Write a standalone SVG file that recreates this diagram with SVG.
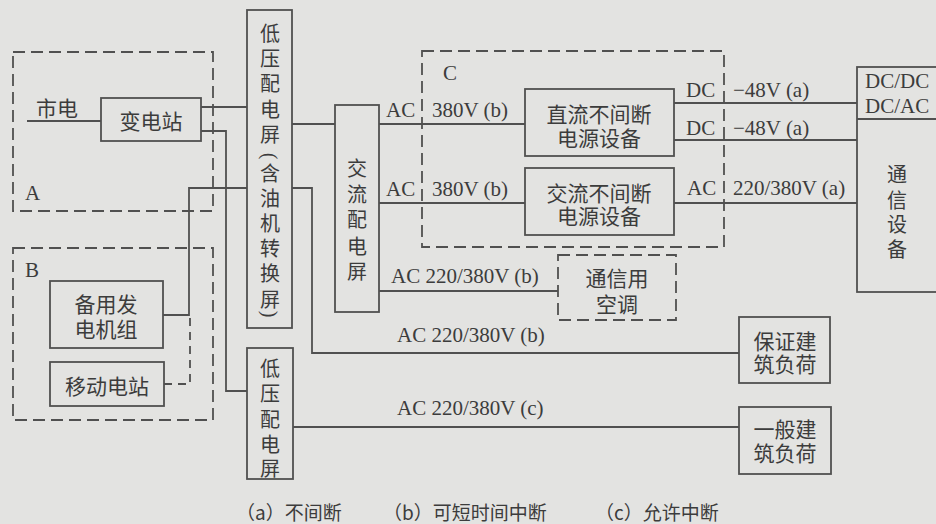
<svg xmlns="http://www.w3.org/2000/svg" width="936" height="524" viewBox="0 0 936 524">
<style>
.bg{fill:#e3e3e1}
.box{fill:none;stroke:#505050;stroke-width:1.8}
.dbox{fill:none;stroke:#505050;stroke-width:1.8;stroke-dasharray:12 6}
.ln{fill:none;stroke:#505050;stroke-width:1.8}
.dln{fill:none;stroke:#505050;stroke-width:1.8;stroke-dasharray:8 6}
.cj{font-family:"Noto Sans CJK SC","Noto Sans CJK TC",sans-serif;font-size:21px;fill:#3c3c3c;text-anchor:middle;dominant-baseline:central}
.cv{font-family:"Noto Sans CJK SC","Noto Sans CJK TC",sans-serif;font-size:20px;fill:#3c3c3c;text-anchor:middle;dominant-baseline:central}
.pr{font-family:"Liberation Serif","Times New Roman",serif;font-size:20px;fill:#3c3c3c;text-anchor:middle;dominant-baseline:central}
.cjl{font-family:"Noto Sans CJK SC","Noto Sans CJK TC",sans-serif;font-size:19px;fill:#3c3c3c;dominant-baseline:central}
.lt{font-family:"Liberation Serif","Times New Roman",serif;font-size:21px;fill:#3c3c3c}
</style>
<rect class="bg" x="0" y="0" width="936" height="524"/>

<g id="connectors">
<path class="ln" d="M27,121H101"/>
<path class="ln" d="M201,107H247"/>
<path class="ln" d="M201,131H226V391H247"/>
<path class="ln" d="M163,315H189V188H247"/>
<path class="dln" d="M164,384H190V315"/>
<path class="ln" d="M292,124H335"/>
<path class="ln" d="M292,188H312V353H739"/>
<path class="ln" d="M379,124H525"/>
<path class="ln" d="M379,203H525"/>
<path class="ln" d="M379,291H558"/>
<path class="ln" d="M674,103H857"/>
<path class="ln" d="M674,140H857"/>
<path class="ln" d="M674,203H857"/>
<path class="ln" d="M293,427H739"/>
<text class="lt" x="386" y="117">AC</text>
<text class="lt" x="432" y="117">380V (b)</text>
<text class="lt" x="386" y="196">AC</text>
<text class="lt" x="432" y="196">380V (b)</text>
<text class="lt" x="686" y="97">DC</text>
<text class="lt" x="733" y="97">−48V (a)</text>
<text class="lt" x="686" y="135">DC</text>
<text class="lt" x="733" y="135">−48V (a)</text>
<text class="lt" x="687" y="195">AC</text>
<text class="lt" x="733" y="195">220/380V (a)</text>
<text class="lt" x="391" y="283">AC 220/380V (b)</text>
<text class="lt" x="397" y="342">AC 220/380V (b)</text>
<text class="lt" x="397" y="415">AC 220/380V (c)</text>
</g>

<g id="groupA">
<rect class="dbox" x="13" y="52" width="200" height="159"/>
<text class="lt" x="25" y="200">A</text>
<text class="cj" x="57" y="107">市电</text>
</g>
<g id="groupB">
<rect class="dbox" x="13" y="248" width="200" height="172"/>
<text class="lt" x="25" y="277">B</text>
</g>
<g id="groupC">
<rect class="dbox" x="422" y="51" width="302" height="196"/>
<text class="lt" x="443" y="80">C</text>
</g>

<g id="substation">
<rect class="box" x="101" y="98" width="100" height="43"/>
<text class="cj" x="151" y="120">变电站</text>
</g>
<g id="generator">
<rect class="box" x="50" y="281" width="113" height="67"/>
<text class="cj" x="106" y="303">备用发</text>
<text class="cj" x="106" y="328">电机组</text>
</g>
<g id="mobile">
<rect class="box" x="50" y="362" width="114" height="44"/>
<text class="cj" x="107" y="385">移动电站</text>
</g>
<g id="lv1">
<rect class="box" x="247" y="10" width="45" height="318"/>
<text class="cv" x="270" y="32">低</text>
<text class="cv" x="270" y="57">压</text>
<text class="cv" x="270" y="82">配</text>
<text class="cv" x="270" y="108">电</text>
<text class="cv" x="270" y="133">屏</text>
<text class="pr" x="270" y="156" transform="rotate(90 270 156)">(</text>
<text class="cv" x="270" y="172">含</text>
<text class="cv" x="270" y="197">油</text>
<text class="cv" x="270" y="222">机</text>
<text class="cv" x="270" y="247">转</text>
<text class="cv" x="270" y="272">换</text>
<text class="cv" x="270" y="298">屏</text>
<text class="pr" x="270" y="314" transform="rotate(90 270 314)">)</text>
</g>
<g id="lv2">
<rect class="box" x="247" y="348" width="46" height="131"/>
<text class="cv" x="270" y="367">低</text>
<text class="cv" x="270" y="392">压</text>
<text class="cv" x="270" y="418">配</text>
<text class="cv" x="270" y="443">电</text>
<text class="cv" x="270" y="467">屏</text>
</g>
<g id="acpanel">
<rect class="box" x="335" y="105" width="44" height="207"/>
<text class="cv" x="357" y="167">交</text>
<text class="cv" x="357" y="193">流</text>
<text class="cv" x="357" y="218">配</text>
<text class="cv" x="357" y="245">电</text>
<text class="cv" x="357" y="270">屏</text>
</g>
<g id="dcups">
<rect class="box" x="525" y="89" width="149" height="67"/>
<text class="cj" x="599" y="113">直流不间断</text>
<text class="cj" x="599" y="137">电源设备</text>
</g>
<g id="acups">
<rect class="box" x="525" y="168" width="149" height="67"/>
<text class="cj" x="599" y="192">交流不间断</text>
<text class="cj" x="599" y="215">电源设备</text>
</g>
<g id="aircon">
<rect class="dbox" x="558" y="255" width="118" height="65"/>
<text class="cj" x="617" y="277">通信用</text>
<text class="cj" x="617" y="303">空调</text>
</g>
<g id="telecom">
<rect class="box" x="857" y="67" width="90" height="225"/>
<path class="ln" d="M857,119H947"/>
<text class="lt" x="865" y="88">DC/DC</text>
<text class="lt" x="865" y="113">DC/AC</text>
<text class="cv" x="897" y="173">通</text>
<text class="cv" x="897" y="199">信</text>
<text class="cv" x="897" y="223">设</text>
<text class="cv" x="897" y="248">备</text>
</g>
<g id="guaranteed">
<rect class="box" x="739" y="317" width="91" height="66"/>
<text class="cj" x="785" y="340">保证建</text>
<text class="cj" x="785" y="363">筑负荷</text>
</g>
<g id="general">
<rect class="box" x="739" y="407" width="92" height="67"/>
<text class="cj" x="785" y="428">一般建</text>
<text class="cj" x="785" y="452">筑负荷</text>
</g>
<g id="legend">
<text class="cjl" x="236" y="511">（a）不间断</text>
<text class="cjl" x="383" y="511">（b）可短时间中断</text>
<text class="cjl" x="595" y="511">（c）允许中断</text>
</g>
</svg>
